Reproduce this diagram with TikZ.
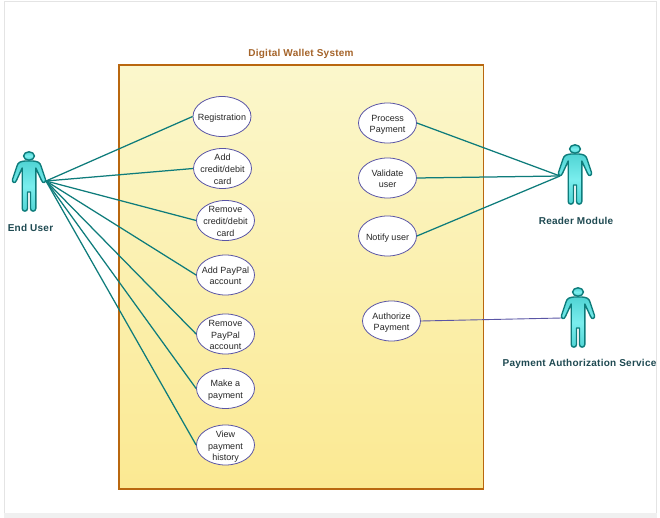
\documentclass[tikz,border=0pt]{standalone}
\usepackage{fontspec}
\setmainfont{Liberation Sans}
\usetikzlibrary{shapes.geometric}
\definecolor{linkc}{HTML}{0E7C7B}
\definecolor{purp}{HTML}{5A55A5}
\definecolor{framec}{HTML}{B9670F}
\definecolor{labelc}{HTML}{1F4A52}
\definecolor{titlec}{HTML}{A5642A}
\definecolor{pageg}{HTML}{E4E4E4}
\definecolor{ftop}{HTML}{FBF7CC}
\definecolor{fbot}{HTML}{FBE992}
\definecolor{acta}{HTML}{50D4D4}
\definecolor{actb}{HTML}{7AEEEE}
\newcommand{\uct}[1]{\smash{\makebox[0pt]{\raisebox{-3.9pt}{\begin{tabular}{@{}c@{}}#1\end{tabular}}}}}
\tikzset{
  usecase/.style={ellipse,draw=purp,fill=white,line width=0.8pt,minimum width=58pt,minimum height=40pt,inner sep=0pt,font=\fontsize{9}{11.8}\selectfont,text=black!85},
  link/.style={draw=linkc,line width=1.25pt},
  authlink/.style={draw=purp,line width=0.9pt},
  actorlabel/.style={font=\fontsize{10}{12}\bfseries\addfontfeature{LetterSpace=2.5}\selectfont,text=labelc},
  actorbody/.style={draw=linkc,line width=1.4pt,line join=round,top color=acta,bottom color=acta,middle color=actb},
}
\newcommand{\actorshape}[2]{%
  \begin{scope}[shift={(#1,#2)}]
    \path[actorbody] (0,4) ellipse [x radius=5.4,y radius=4.2];
    \path[actorbody] (-4,9) -- (4,9)
      .. controls (9,9.5) and (11,10.5) .. (12,14)
      -- (16.5,27.5) .. controls (17.2,31) and (13.5,31.5) .. (12.6,28.5)
      -- (6.8,16) -- (6.8,56.5) .. controls (6.8,60) and (1.5,60) .. (1.5,56.5)
      -- (1.5,40) -- (-1.5,40) -- (-1.5,56.5)
      .. controls (-1.5,60) and (-6.8,60) .. (-6.8,56.5) -- (-6.8,16)
      -- (-12.6,28.5) .. controls (-13.5,31.5) and (-17.2,31) .. (-16.5,27.5)
      -- (-12,14) .. controls (-11,10.5) and (-9,9.5) .. (-4,9) -- cycle;
  \end{scope}}
\begin{document}
\begin{tikzpicture}[x=1pt,y=-1pt]
\useasboundingbox (0,0) rectangle (660,518);
% page edge
\fill[white] (0,0) rectangle (660,518);
\draw[pageg,line width=0.8pt] (4,513) -- (4,1) -- (656.5,1) -- (656.5,513);
\fill[black!6] (4,513) rectangle (656.5,518);
% system frame
\node[draw=framec,line width=1.3pt,top color=ftop,bottom color=fbot,minimum width=364.5pt,minimum height=424pt,inner sep=0pt] (frame) at (301.25,277) {};
\node[actorlabel,text=titlec] (title) at (301,53.7) {Digital Wallet System};
% anchors at the actors' hands
\coordinate (euhand) at (46,181);
\coordinate (rmhand) at (560,176);
\coordinate (pahand) at (562,318);
% use cases
\node[usecase] (reg) at (222,116.5) {\uct{Registration}};
\node[usecase] (addc) at (222.5,168.5) {\uct{Add\\credit/debit\\card}};
\node[usecase] (remc) at (225.5,220.5) {\uct{Remove\\credit/debit\\card}};
\node[usecase] (addp) at (225.5,275) {\uct{Add PayPal\\account}};
\node[usecase] (remp) at (225.5,334) {\uct{Remove\\PayPal\\account}};
\node[usecase] (make) at (225.5,388.5) {\uct{Make a\\payment}};
\node[usecase] (view) at (225.5,445) {\uct{View\\payment\\history}};
\node[usecase] (proc) at (387.5,123) {\uct{Process\\Payment}};
\node[usecase] (vali) at (387.5,178) {\uct{Validate\\user}};
\node[usecase] (noti) at (387.5,236) {\uct{Notify user}};
\node[usecase] (auth) at (391.5,321) {\uct{Authorize\\Payment}};
% connectors
\foreach \n in {reg,addc,remc,addp,remp,make,view} \draw[link] (euhand) -- (\n.west);
\foreach \n in {proc,vali,noti} \draw[link] (\n.east) -- (rmhand);
\draw[authlink] (auth.east) -- (pahand);
% actors
\actorshape{29}{152}
\actorshape{575}{145}
\actorshape{578}{288}
\node[actorlabel] (eul) at (30.5,227.7) {End User};
\node[actorlabel] (rml) at (576,220.7) {Reader Module};
\node[actorlabel] (pal) at (579.5,363.7) {Payment Authorization Service};
\end{tikzpicture}
\end{document}
